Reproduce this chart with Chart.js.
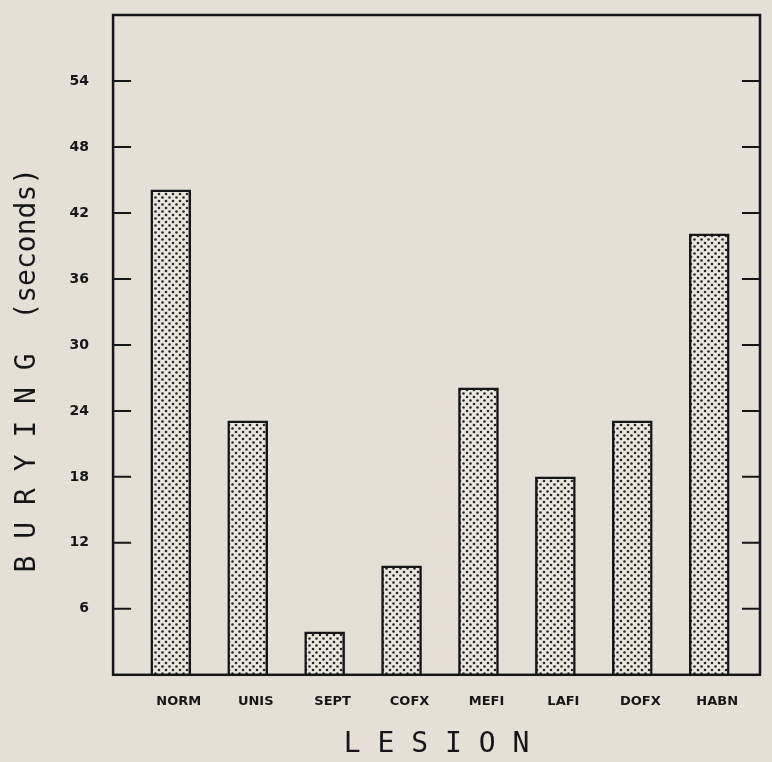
<!DOCTYPE html>
<html>
<head>
<meta charset="utf-8">
<script src="https://cdn.jsdelivr.net/npm/chart.js@4/dist/chart.umd.min.js"></script>
<style>
    html, body { margin: 0; padding: 0; background: #e4e0d5; }
    #wrap { width: 772px; height: 762px; }
</style>
</head>
<body>
<div id="wrap"><canvas id="bury-canvas" width="772" height="762"></canvas></div>
<script>
// values
const categories = ['NORM', 'UNIS', 'SEPT', 'COFX', 'MEFI', 'LAFI', 'DOFX', 'HABN'];
const burying_seconds = [44.1, 23.1, 3.9, 9.9, 26.1, 18.0, 23.1, 40.1];
const y_ticks = [6, 12, 18, 24, 30, 36, 42, 48, 54];

const INK = '#161616';

function get_dot_pattern() {
    const tile = document.createElement('canvas');
    tile.width = 7;
    tile.height = 7;
    const c = tile.getContext('2d');
    c.fillStyle = '#e9e6dc';
    c.fillRect(0, 0, 7, 7);
    c.fillStyle = '#262626';
    for (const [x, y] of [[1.5, 1.5], [5, 5]]) {
        c.beginPath();
        c.arc(x, y, 1.3, 0, Math.PI * 2);
        c.fill();
    }
    return c.createPattern(tile, 'repeat');
}

// box round the plot plus the short inward tick marks on both sides
const frame_plugin = {
    id: 'frame',
    afterDraw(chart) {
        const { ctx, chartArea } = chart;
        const y = chart.scales.y;
        ctx.save();
        ctx.strokeStyle = INK;
        ctx.lineWidth = 2.5;
        ctx.strokeRect(chartArea.left, chartArea.top,
            chartArea.right - chartArea.left, chartArea.bottom - chartArea.top);
        ctx.lineWidth = 2;
        ctx.beginPath();
        for (const v of y_ticks) {
            const py = y.getPixelForValue(v);
            ctx.moveTo(chartArea.left, py);
            ctx.lineTo(chartArea.left + 18, py);
            ctx.moveTo(chartArea.right, py);
            ctx.lineTo(chartArea.right - 18, py);
        }
        ctx.stroke();
        ctx.restore();
    }
};

const ctx = document.getElementById('bury-canvas').getContext('2d');
new Chart(ctx, {
    type: 'bar',
    data: {
        datasets: [{
            data: burying_seconds.map((v, i) => ({ x: i, y: v })),
            backgroundColor: get_dot_pattern(),
            borderColor: INK,
            borderWidth: 2.5,
            borderSkipped: 'bottom',
            barThickness: 40
        }]
    },
    options: {
        responsive: false,
        animation: false,
        layout: {
            padding: { left: 0, right: 12, top: 15, bottom: 0 }
        },
        plugins: {
            legend: { display: false },
            tooltip: { enabled: false }
        },
        scales: {
            x: {
                type: 'linear',
                offset: false,
                min: -0.75,
                max: 7.66,
                afterBuildTicks: (scale) => {
                    scale.ticks = categories.map((c, i) => ({ value: i }));
                },
                grid: { display: false, drawTicks: false },
                border: { display: false },
                ticks: {
                    autoSkip: false,
                    maxRotation: 0,
                    padding: 19,
                    labelOffset: 8,
                    color: INK,
                    font: { family: 'DejaVu Sans', weight: 'bold', size: 13 },
                    callback: (v) => categories[v]
                },
                title: {
                    display: true,
                    text: 'L E S I O N',
                    color: INK,
                    font: { family: 'DejaVu Sans Mono', size: 28 },
                    padding: { top: 0, bottom: 0 }
                }
            },
            y: {
                min: 0,
                max: 60,
                afterBuildTicks: (scale) => {
                    scale.ticks = y_ticks.map((v) => ({ value: v }));
                },
                // the tick padding would otherwise push the plot top down
                afterFit: (scale) => {
                    scale.paddingTop = 0;
                },
                grid: { display: false, drawTicks: false },
                border: { display: false },
                ticks: {
                    padding: 24,
                    color: INK,
                    font: { family: 'DejaVu Sans', weight: 'bold', size: 14 }
                },
                title: {
                    display: true,
                    text: 'B U R Y I N G  (seconds)   ',
                    color: INK,
                    font: { family: 'DejaVu Sans Mono', size: 28 },
                    padding: { top: 11, bottom: 1 }
                }
            }
        }
    },
    plugins: [frame_plugin]
});
</script>
</body>
</html>
